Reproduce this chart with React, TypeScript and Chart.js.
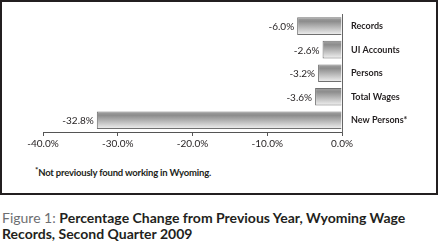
import React, { useEffect, useRef } from "react";
import { Chart, registerables } from "chart.js";

Chart.register(...registerables);

const categories: string[] = ["Records", "UI Accounts", "Persons", "Total Wages", "New Persons*"];
const values: number[] = [-6.0, -2.6, -3.2, -3.6, -32.8];
const xMin = -40;
const xMax = 0;
const xStep = 10;

const FONT = "Lato, 'Noto Sans', sans-serif";

const barLabelPlugin = {
  id: "barLabels",
  afterDatasetsDraw(chart: any) {
    const ctx = chart.ctx;
    const meta = chart.getDatasetMeta(0);
    ctx.save();
    ctx.font = `10px ${FONT}`;
    ctx.fillStyle = "#231f20";
    ctx.textAlign = "right";
    ctx.textBaseline = "middle";
    meta.data.forEach((bar: any, i: number) => {
      const v = values[i];
      ctx.fillText(v.toFixed(1) + "%", bar.x - 3, bar.y + 1);
    });
    ctx.restore();
  },
};

export default function App() {
  const canvasRef = useRef<HTMLCanvasElement | null>(null);

  useEffect(() => {
    if (!canvasRef.current) return;
    const chart = new Chart(canvasRef.current, {
      type: "bar",
      data: {
        labels: categories,
        datasets: [
          {
            data: values,
            backgroundColor: (c: any) => {
              const ch = c.chart;
              const area = ch.chartArea;
              const ys = ch.scales && ch.scales.y;
              if (!area || !ys || c.type !== "data") return "#aaaaaa";
              const center = ys.getPixelForValue(c.dataIndex);
              const half = ((area.bottom - area.top) / categories.length) * 0.75 / 2;
              const g = ch.ctx.createLinearGradient(0, center - half, 0, center + half);
              g.addColorStop(0, "#a4a4a4");
              g.addColorStop(0.22, "#8c8c8c");
              g.addColorStop(1, "#f2f2f2");
              return g;
            },
            borderColor: "#707070",
            borderWidth: 1,
            barPercentage: 0.75,
            categoryPercentage: 1,
          },
        ],
      },
      options: {
        indexAxis: "y",
        animation: false,
        responsive: false,
        maintainAspectRatio: false,
        layout: { padding: { left: 43, top: 12, right: 0, bottom: 0 } },
        plugins: {
          legend: { display: false },
          tooltip: { enabled: false },
          title: { display: false },
        },
        scales: {
          x: {
            type: "linear",
            min: xMin,
            max: xMax,
            position: "bottom",
            ticks: {
              stepSize: xStep,
              padding: 2,
              color: "#231f20",
              font: { family: FONT, size: 10 },
              callback: (v: any) => Number(v).toFixed(1) + "%",
            },
            grid: {
              display: true,
              drawOnChartArea: false,
              drawTicks: true,
              tickLength: 4,
              color: "#555555",
            },
            border: { display: true, color: "#555555", width: 1 },
            afterFit: (axis: any) => {
              axis.height = 28;
            },
          },
          y: {
            type: "category",
            position: "right",
            ticks: {
              padding: 9,
              color: "#231f20",
              font: { family: FONT, size: 9, weight: "bold" },
            },
            grid: { display: true, drawOnChartArea: false, drawTicks: false },
            border: { display: true, color: "#666666", width: 1 },
            afterFit: (axis: any) => {
              axis.width = 96;
            },
          },
        },
      } as any,
      plugins: [barLabelPlugin],
    });
    return () => chart.destroy();
  }, []);

  return (
    <div style={{ position: "absolute", left: 0, top: 0, width: 438, height: 245, background: "#fff" }}>
      <div
        style={{
          position: "absolute",
          left: 0,
          top: 0,
          width: 438,
          height: 195,
          boxSizing: "border-box",
          border: "2px solid #231f20",
        }}
      />
      <canvas
        ref={canvasRef}
        width={438}
        height={160}
        style={{ position: "absolute", left: 0, top: 0, width: 438, height: 160 }}
      />
      <div
        style={{
          position: "absolute",
          left: 35,
          top: 163,
          fontFamily: FONT,
          fontSize: 9.5,
          fontWeight: "bold",
          letterSpacing: "-0.2px",
          lineHeight: "14px",
          color: "#231f20",
          whiteSpace: "nowrap",
        }}
      >
        <span style={{ fontSize: 8, verticalAlign: "3px", color: "#231f20" }}>*</span>Not previously found working in Wyoming.
      </div>
      <div
        style={{
          position: "absolute",
          left: 2,
          top: 210,
          fontFamily: FONT,
          fontSize: 14,
          lineHeight: "16px",
          color: "#231f20",
          whiteSpace: "nowrap",
        }}
      >
        <span style={{ color: "#6d6e71" }}>Figure 1: </span>
        <span style={{ fontWeight: "bold" }}>Percentage Change from Previous Year, Wyoming Wage</span>
        <br />
        <span style={{ fontWeight: "bold" }}>Records, Second Quarter 2009</span>
      </div>
    </div>
  );
}
